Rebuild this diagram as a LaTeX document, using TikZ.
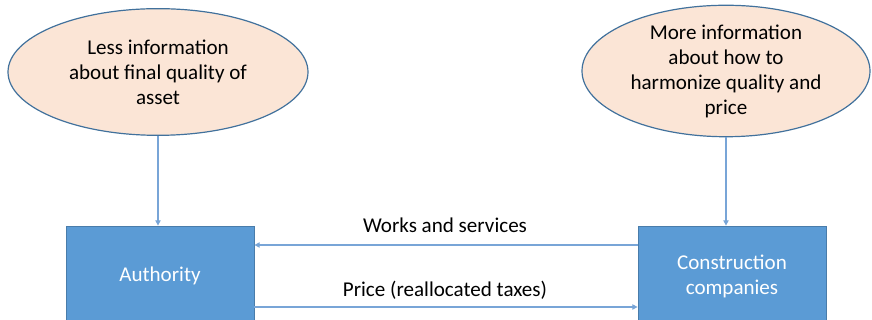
\documentclass[tikz,border=0pt]{standalone}
\usepackage{fontspec}
\setmainfont{Carlito}
\usetikzlibrary{calc,positioning,arrows.meta,shapes.geometric}
\definecolor{infopeach}{RGB}{251,229,214}
\definecolor{rimblue}{RGB}{65,113,156}
\definecolor{partyblue}{RGB}{91,155,213}
\definecolor{flowblue}{RGB}{120,165,215}

\begin{document}
\begin{tikzpicture}[x=0.75pt,y=0.75pt,>={Triangle[width=4pt,length=4pt]}]
  \tikzset{
    info/.style={ellipse,draw=rimblue,line width=0.9pt,fill=infopeach,inner sep=0pt,
      align=center,font=\fontsize{15.8}{18.75}\selectfont},
    party/.style={rectangle,draw=partyblue!80!black,line width=0.6pt,fill=partyblue,
      minimum width=141pt,minimum height=75pt,align=center,text=white,
      font=\fontsize{15.8}{18.75}\selectfont},
    flow/.style={draw=flowblue,line width=0.8pt,->},
    lbl/.style={font=\fontsize{15.8}{18.75}\selectfont},
  }
  \useasboundingbox (0,0) rectangle (872,320);
  \clip (0,0) rectangle (872,320);

  \node[info,minimum width=225pt,minimum height=95pt] (lessinfo) at (158,248)
    {Less information\\about final quality of\\asset};
  \node[info,minimum width=216pt,minimum height=96pt] (moreinfo) at (726,249)
    {More information\\about how to\\harmonize quality and\\price};

  \node[party] (auth) at (160,44) {Authority};
  \node[party] (constr) at (732,44) {Construction\\companies};

  \draw[flow] (lessinfo.south) -- (lessinfo.south |- auth.north);
  \draw[flow] (moreinfo.south) -- (moreinfo.south |- constr.north);

  \draw[flow] ($(constr.west)+(0,31)$) -- ($(auth.east)+(0,31)$);
  \draw[flow] ($(auth.east)+(0,-31)$) -- ($(constr.west)+(0,-31)$);

  \node[lbl] (works) at (445,95) {Works and services};
  \node[lbl] (price) at (445,30) {Price (reallocated taxes)};
\end{tikzpicture}
\end{document}
